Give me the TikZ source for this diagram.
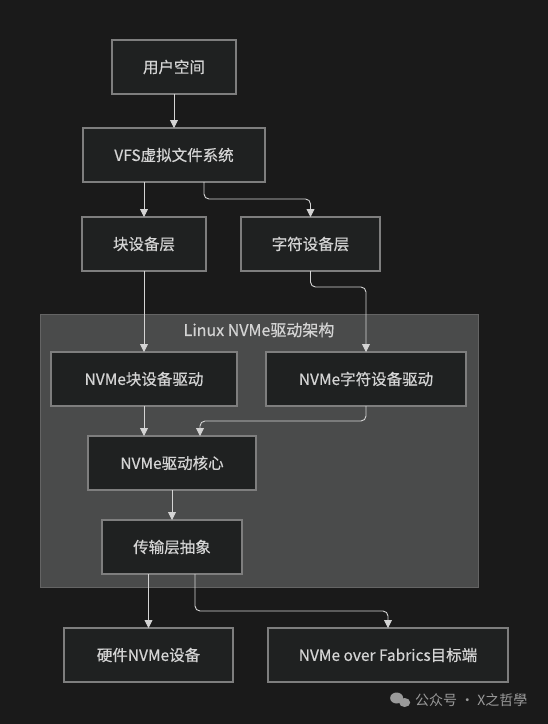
\documentclass[tikz,border=0pt]{standalone}
\usepackage{fontspec}
\setmainfont{Noto Sans CJK SC}
\newfontfamily\medfont[FakeBold=0.45]{Noto Sans CJK SC}
\usepackage{tikz}
\usetikzlibrary{arrows.meta,positioning,backgrounds}
\definecolor{bgdark}{HTML}{1A1A1A}
\definecolor{boxfill}{HTML}{1F2121}
\definecolor{boxline}{HTML}{7E7E7E}
\definecolor{clusterfill}{HTML}{4A4B4B}
\definecolor{clusterline}{HTML}{646464}
\definecolor{txtgray}{HTML}{D4D4D4}
\definecolor{wmgray}{HTML}{9A9A9A}
\tikzset{block/.style={rectangle, draw=boxline, fill=boxfill, line width=1.6pt, text=txtgray,
 font=\medfont\fontsize{15.5}{18}\selectfont, minimum height=54pt, inner sep=0pt, outer sep=0pt, text centered}}
\tikzset{cluster/.style={rectangle, draw=clusterline, fill=clusterfill, line width=0.8pt, inner sep=0pt, outer sep=0pt}}
\tikzset{line/.style={draw=txtgray, line width=0.9pt, rounded corners=5pt, -{Triangle[length=8pt,width=8pt]}}}

\begin{document}
\begin{tikzpicture}[x=1pt, y=1pt]
        \fill[bgdark] (0,0) rectangle (548,-724);
        \node[cluster, minimum width=438pt, minimum height=273pt] (arch) at (259,-450.5) {};
        \node[text=txtgray, font=\medfont\fontsize{16}{18}\selectfont, below=5pt of arch.north] (archlbl) {Linux NVMe驱动架构};
        \node[block, minimum width=124pt] (user) at (174,-67) {用户空间};
        \node[block, minimum width=182pt, below=34pt of user] (vfs) {VFS虚拟文件系统};
        \node[block, minimum width=124pt, below=35pt of vfs, xshift=-30pt] (blk) {块设备层};
        \node[block, minimum width=139pt, right=35pt of blk] (chr) {字符设备层};
        \node[block, minimum width=186pt, below=81pt of blk] (nblk) {NVMe块设备驱动};
        \node[block, minimum width=200pt, right=29pt of nblk] (nchr) {NVMe字符设备驱动};
        \node[block, minimum width=168pt, below=30pt of nblk, xshift=28pt] (core) {NVMe驱动核心};
        \node[block, minimum width=140pt, below=30pt of core] (trans) {传输层抽象};
        \node[block, minimum width=169pt, below=54pt of trans, xshift=-23.5pt] (hw) {硬件NVMe设备};
        \node[block, minimum width=240pt, right=35pt of hw] (nvmf) {NVMe over Fabrics目标端};
        % watermark
        \node[text=wmgray, font=\fontsize{14}{16}\selectfont, anchor=east] (wm) at (531,-700) {公众号 · X之哲學};
        \fill[wmgray] ([xshift=-15pt,yshift=2pt]wm.west) ellipse (6.5pt and 5.5pt);
        \fill[wmgray] ([xshift=-7pt,yshift=-2.5pt]wm.west) ellipse (5.5pt and 4.5pt);
        \path[line] (user) -- (vfs);
        \path[line] (blk |- vfs.south) -- (blk);
        \path[line] ([xshift=30pt]vfs.south) -- ++(0,-17) -| (chr);
        \path[line] (blk) -- (nblk);
        \path[line] (chr.south) -- ++(0,-16) -| (nchr);
        \path[line] (nblk.south) -- (nblk.south |- core.north);
        \path[line] (nchr.south) -- ++(0,-15) -| ([xshift=28pt]core.north);
        \path[line] (core) -- (trans);
        \path[line] (hw |- trans.south) -- (hw);
        \path[line] ([xshift=23pt]trans.south) -- ++(0,-37) -| (nvmf);
\end{tikzpicture}
\end{document}
